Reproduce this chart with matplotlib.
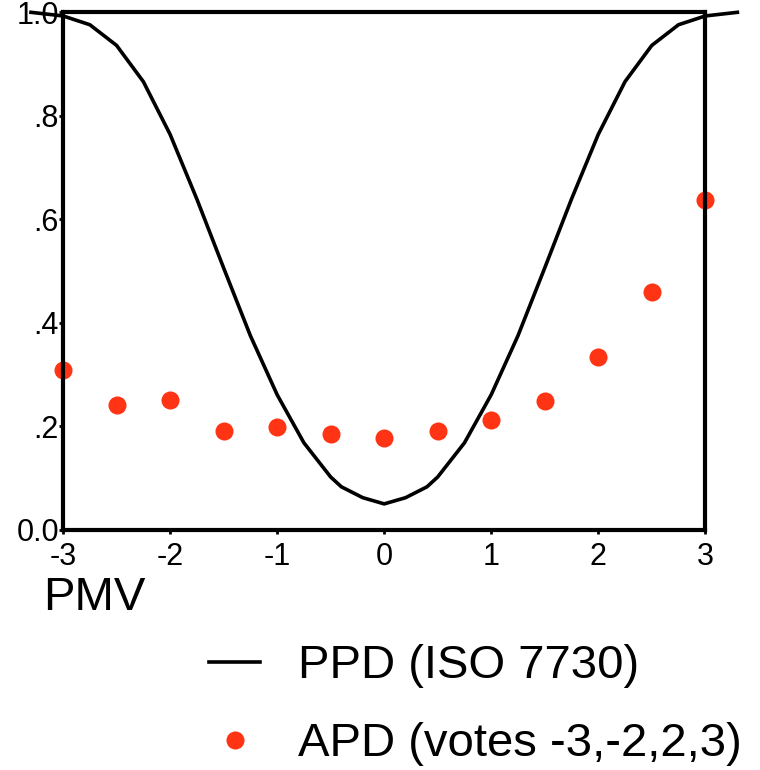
import numpy as np
import matplotlib
matplotlib.use("Agg")
import matplotlib.pyplot as plt

plt.rcParams['font.family'] = ['Liberation Sans', 'DejaVu Sans']

# PPD curve (ISO 7730)
pmv_curve = [-3.3, -3.0, -2.75, -2.5, -2.25, -2.0, -1.75, -1.5, -1.25, -1.0,
             -0.75, -0.5, -0.4, -0.2, 0.0, 0.2, 0.4, 0.5, 0.75, 1.0, 1.25,
             1.5, 1.75, 2.0, 2.25, 2.5, 2.75, 3.0, 3.3]
ppd = [1.0, 0.993, 0.976, 0.936, 0.866, 0.764, 0.639, 0.506, 0.375, 0.261,
       0.168, 0.102, 0.083, 0.062, 0.05, 0.062, 0.083, 0.102, 0.168, 0.261, 0.375,
       0.506, 0.639, 0.764, 0.866, 0.936, 0.976, 0.993, 1.0]

# APD points
pmv_pts = [-3, -2.5, -2, -1.5, -1, -0.5, 0, 0.5, 1, 1.5, 2, 2.5, 3]
apd = [0.309, 0.242, 0.251, 0.190, 0.199, 0.186, 0.178, 0.191, 0.213,
       0.248, 0.333, 0.460, 0.638]

xticks = [-3, -2, -1, 0, 1, 2, 3]
yticks = [0.0, 0.2, 0.4, 0.6, 0.8, 1.0]
ylabels = ["0.0", ".2", ".4", ".6", ".8", "1.0"]

fig = plt.figure(figsize=(7.6, 7.7), dpi=100)
ax = fig.add_axes([0.083, 0.312, 0.845, 0.672])

line, = ax.plot(pmv_curve, ppd, color='black', lw=2.6, clip_on=False,
                solid_joinstyle='miter', label='PPD (ISO 7730)')
pts, = ax.plot(pmv_pts, apd, 'o', color='#ff3414', ms=13, mew=0,
               clip_on=False, label='APD (votes -3,-2,2,3)')

ax.set_xlim(-3, 3)
ax.set_ylim(0, 1)
ax.set_xticks(xticks)
ax.set_xticklabels([str(t) for t in xticks])
ax.set_yticks(yticks)
ax.set_yticklabels(ylabels)
ax.tick_params(axis='both', labelsize=22, length=3, width=2, color='black')
ax.tick_params(axis='x', pad=6)
ax.tick_params(axis='y', pad=0)

for s in ax.spines.values():
    s.set_linewidth(3)

fig.text(0.057, 0.223, 'PMV', fontsize=34, ha='left', va='center')

fig.legend(handles=[line, pts], loc='upper left', bbox_to_anchor=(0.275, 0.163),
           frameon=False, fontsize=34, handlelength=1.08, handletextpad=0.8,
           labelspacing=0.72, borderaxespad=0, borderpad=0)

fig.savefig('out.png', dpi=100)
